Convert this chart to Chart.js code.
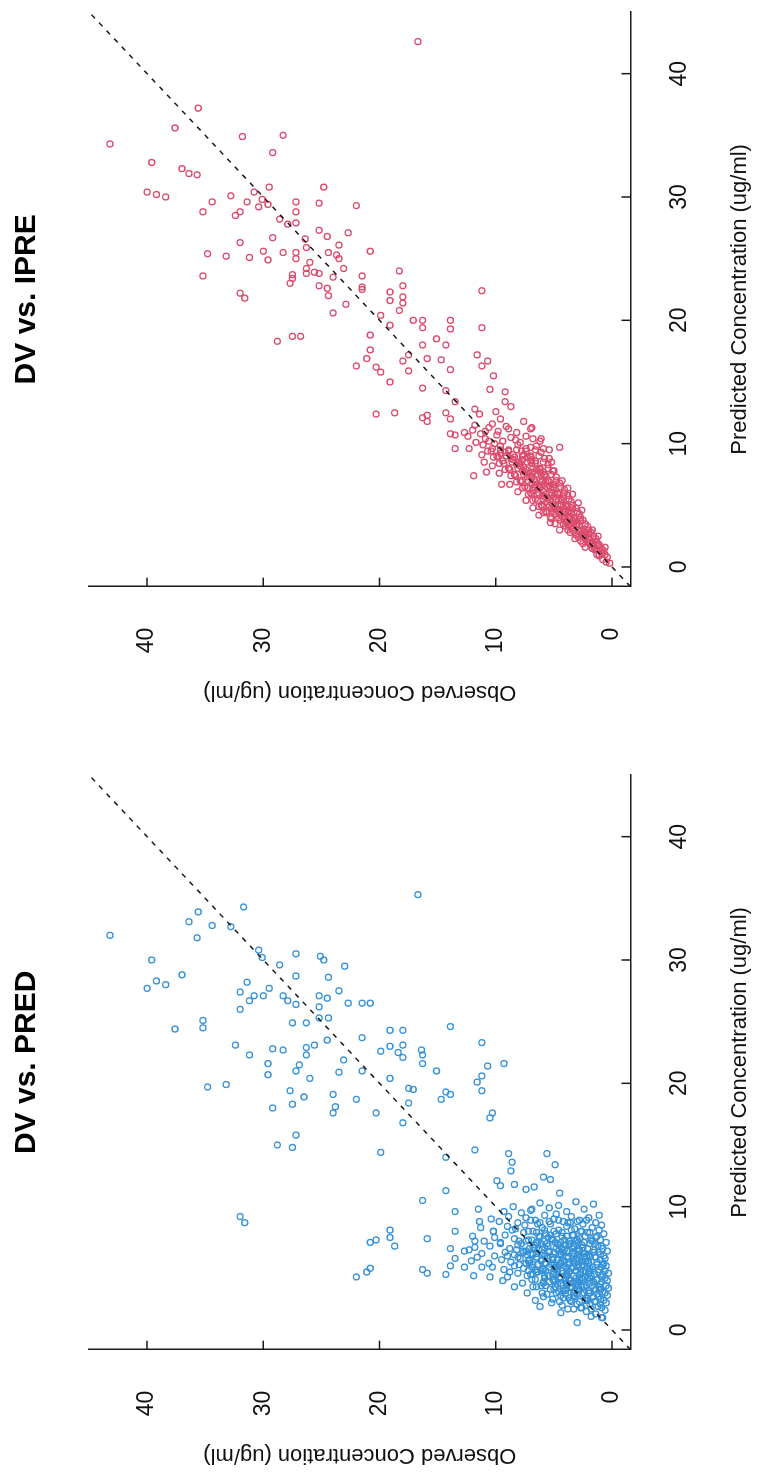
<!DOCTYPE html>
<html>
<head>
<meta charset="utf-8">
<title>DV vs. PRED / DV vs. IPRE</title>
<script src="https://cdn.jsdelivr.net/npm/chart.js@4.4.1/dist/chart.umd.min.js"></script>
<style>
  html, body { margin: 0; padding: 0; background: #fff; overflow: hidden; width: 759px; height: 1473px; }
  /* the figure is laid out landscape, then turned a quarter turn counter-clockwise */
  #page { position: absolute; left: 0; top: 0; width: 1473px; height: 759px;
          transform-origin: 0 0; transform: translate(0, 1473px) rotate(-90deg); }
  #page canvas { position: absolute; top: 0; }
</style>
</head>
<body>
<div id="page">
  <canvas id="cPred" width="736" height="759" style="left:0"></canvas>
  <canvas id="cIpre" width="710" height="759" style="left:763px"></canvas>
</div>
<script>
// ── DATA ───────────────────────────────────────────────────────
// each point: [predicted, observed]  (ug/ml)
const tickVals  = [0, 10, 20, 30, 40];
const axisRange = [-1.6, 45];
const identity  = [-1.6, 45];

const predPoints = [
  // sparse points
  [35.3,16.7],[32.0,43.2],[34.3,31.7],[33.9,35.6],[33.1,36.4],[32.8,34.4],[32.7,32.8],[31.8,35.7],
  [30.0,39.6],[30.8,30.4],[30.2,30.1],[30.5,27.2],[30.3,25.1],[30.0,24.8],[29.5,23.0],[29.6,28.6],
  [28.8,37.0],[28.3,39.2],[28.0,38.4],[27.7,40.0],[28.7,27.2],[28.6,24.4],[28.2,31.4],[27.7,29.5],
  [27.4,32.0],[27.1,30.8],[27.1,30.0],[26.7,31.2],[27.1,28.3],[26.7,27.9],[26.4,27.2],[27.1,25.2],
  [26.9,24.5],[27.5,23.5],[26.5,22.7],[26.5,21.5],[26.5,20.8],[26.0,32.0],[26.2,25.2],[25.3,25.2],
  [25.3,24.4],[24.9,27.5],[24.9,26.3],[25.1,35.2],[24.5,35.2],[24.4,37.6],[23.5,24.5],[23.7,21.5],
  [24.3,19.1],[24.3,18.0],[24.6,13.9],[23.3,11.2],[23.1,32.4],[22.3,31.2],[22.8,29.2],[22.7,28.3],
  [22.9,26.3],[22.3,26.3],[23.1,25.6],[22.6,19.9],[23.0,19.1],[22.5,18.4],[23.1,18.0],[22.1,18.0],
  [22.7,16.4],[22.3,16.3],[21.6,16.3],[21.9,23.1],[21.6,29.6],[20.7,29.6],[21.5,26.9],[21.0,27.2],
  [20.4,26.0],[20.9,23.5],[21.0,21.5],[20.4,19.1],[21.0,15.1],[21.4,10.7],[21.6,9.3],[20.1,11.6],
  [20.6,11.2],[19.4,11.2],[19.7,34.8],[19.9,33.2],[19.4,27.7],[18.9,26.5],[19.1,24.0],[18.3,27.5],
  [18.0,29.2],[18.1,23.8],[17.6,24.0],[18.7,22.0],[17.6,20.3],[19.6,17.5],[19.5,17.1],[18.4,17.5],
  [16.8,18.0],[18.7,14.7],[19.3,14.3],[19.1,13.9],[17.6,10.3],[17.2,10.5],[15.8,27.2],[15.0,28.8],
  [14.8,27.5],[14.4,19.9],[14.0,14.3],[14.6,11.8],[14.3,8.9],[13.6,8.6],[14.3,5.6],[13.4,4.9],
  [12.9,8.7],[11.3,14.3],[12.1,9.9],[11.7,9.6],[11.8,8.4],[11.4,7.4],[11.6,6.7],[12.4,5.9],
  [12.2,5.3],[11.1,4.5],[10.5,16.3],[9.2,32.0],[8.7,31.6],[9.6,13.5],[8.0,13.5],[8.1,19.1],
  [7.5,19.1],[6.8,18.7],[7.3,20.3],[7.1,20.8],[7.4,15.9],[6.6,13.9],[5.8,13.5],[6.4,12.7],
  [5.2,13.9],[5.1,12.7],[4.5,14.3],[4.9,16.3],[4.6,15.9],[5.0,20.8],[4.7,21.1],[4.3,22.0],
  [4.4,11.9],[7.2,11.8],[8.8,11.4],[9.8,11.5],[8.0,10.2],[0.6,3.0],[1.0,0.9],
  // main cluster
  [10.2,1.6],[9.8,2.4],[10.4,3.1],[9.6,3.9],[10.1,4.6],[9.9,5.4],[10.3,6.2],[9.7,7.0],[9.5,7.8],
  [10.0,8.5],[9.6,9.3],[9.3,1.1],[9.1,2.0],[8.9,2.8],[9.2,3.5],[8.8,4.2],[9.0,5.0],[9.3,5.8],
  [8.9,6.6],[9.1,7.4],[8.7,8.1],[9.2,8.9],[8.8,9.7],[9.0,10.4],
  [8.5,0.9],[8.3,1.7],[8.6,2.5],[8.2,3.2],[8.4,3.9],[8.1,4.6],[8.6,5.3],[8.3,6.0],[8.0,6.8],
  [8.5,7.5],[8.2,8.3],[8.4,9.0],[8.0,10.2],[8.3,11.3],
  [7.8,0.7],[7.5,1.4],[7.9,2.1],[7.4,2.8],[7.7,3.4],[7.3,4.1],[7.8,4.8],[7.5,5.5],[7.6,6.2],
  [7.3,6.9],[7.9,7.6],[7.4,8.4],[7.7,9.2],[7.5,10.1],[7.2,11.0],
  [7.1,0.5],[6.8,1.2],[7.0,1.9],[6.7,2.5],[7.2,3.1],[6.9,3.7],[6.6,4.3],[7.1,4.9],[6.8,5.5],
  [7.0,6.1],[6.7,6.8],[7.2,7.4],[6.9,8.1],[6.6,8.8],[7.0,9.6],[6.8,10.5],[6.7,11.8],
  [6.4,0.4],[6.1,1.0],[6.3,1.6],[6.0,2.2],[6.5,2.8],[6.2,3.3],[6.4,3.9],[6.1,4.5],[6.3,5.0],
  [6.0,5.6],[6.5,6.3],[6.2,7.0],[6.4,7.7],[6.1,8.4],[6.3,9.2],[6.0,10.1],[6.2,11.2],
  [5.8,0.6],[5.5,1.3],[5.9,1.9],[5.6,2.6],[5.4,3.2],[5.8,3.8],[5.5,4.4],[5.7,5.1],[5.4,5.8],
  [5.9,6.5],[5.6,7.2],[5.8,7.9],[5.5,8.7],[5.7,9.5],[5.4,10.6],[5.6,12.1],
  [5.2,0.5],[4.9,1.1],[5.1,1.7],[4.8,2.3],[5.3,2.9],[5.0,3.5],[5.2,4.1],[4.9,4.7],[5.1,5.4],
  [4.8,6.1],[5.3,6.8],[5.0,7.6],[5.2,8.4],[4.9,9.3],[5.1,10.3],
  [4.6,0.3],[4.3,0.9],[4.5,1.5],[4.2,2.1],[4.7,2.7],[4.4,3.3],[4.6,3.9],[4.3,4.5],[4.5,5.1],
  [4.2,5.8],[4.7,6.5],[4.4,7.3],[4.6,8.1],[4.3,9.0],
  [4.0,0.4],[3.7,1.0],[3.9,1.6],[3.6,2.2],[4.1,2.8],[3.8,3.4],[4.0,4.0],[3.7,4.7],[3.9,5.4],
  [3.6,6.1],[4.1,6.9],[3.8,7.7],
  [3.4,0.3],[3.1,0.8],[3.3,1.4],[3.0,2.0],[3.5,2.6],[3.2,3.2],[3.4,3.9],[3.1,4.6],[3.3,5.3],
  [3.0,6.0],[3.5,6.8],
  [2.8,0.4],[2.5,1.0],[2.7,1.6],[2.4,2.3],[2.9,3.0],[2.6,3.7],[2.8,4.4],[2.5,5.1],[2.7,5.9],[2.4,6.6],
  [2.2,0.5],[1.9,1.2],[2.1,1.9],[1.8,2.7],[2.3,3.5],[2.0,4.3],[2.2,5.2],[1.9,6.2],
  [1.6,0.6],[1.3,1.4],[1.5,2.2],[1.7,3.3],[1.4,4.4],[1.0,0.8],[1.1,1.8],
  [7.3,1.8],[7.1,2.9],[6.9,4.0],[7.4,5.2],[7.0,6.4],[6.6,3.0],[6.4,4.6],[6.2,5.9],[6.0,1.9],
  [5.8,3.0],[5.6,4.1],[5.3,5.2],[5.9,2.4],[5.5,3.7],[5.2,4.6],[5.0,2.1],[4.8,3.1],[4.6,4.2],
  [4.4,5.5],[4.2,2.6],[4.0,3.6],[3.8,4.4],[3.6,2.9],[3.4,3.5],[3.2,4.2],[3.0,2.4],[2.8,3.3],
  [2.6,2.1],[5.7,6.0],[6.1,6.8],[4.9,6.6],[3.9,5.9],[4.5,7.0],[5.4,7.4],[6.6,7.1],[7.6,3.9],
  [8.0,2.6],[7.8,5.7],[6.8,0.9],[5.3,0.8],[4.1,1.3],[3.3,1.1],[2.3,1.5],[8.7,3.6],[8.6,6.4],
  [9.4,4.8],[9.8,6.9],[5.9,11.6],[5.1,11.2],[4.3,10.5],[6.5,12.3],[7.6,12.0],[4.0,9.4],[3.5,8.4],[3.0,7.3],
  // filling the dense core
  [8.7,1.4],[8.9,2.2],[8.8,3.0],[8.7,3.8],[8.9,4.6],[8.8,5.4],[8.7,6.2],[8.9,7.0],
  [8.1,1.1],[7.9,1.9],[8.0,2.7],[8.1,3.5],[7.9,4.3],[8.0,5.0],[8.1,5.8],[7.9,6.5],[8.0,7.2],[8.1,8.6],
  [7.3,1.0],[7.2,1.7],[7.1,2.4],[7.3,3.0],[7.2,3.7],[7.1,4.4],[7.3,5.1],[7.2,5.8],[7.1,6.5],[7.3,7.2],[7.2,8.0],[7.1,9.6],
  [6.6,0.8],[6.5,1.5],[6.6,2.1],[6.4,2.8],[6.6,3.4],[6.5,4.1],[6.6,4.8],[6.4,5.4],[6.5,6.0],[6.6,6.7],[6.4,7.4],[6.5,8.2],
  [6.0,0.7],[5.9,1.4],[6.1,2.0],[5.9,2.7],[6.0,3.3],[5.9,3.9],[6.1,4.5],[5.9,5.1],[6.0,5.8],[5.9,6.5],[6.1,7.3],[5.9,8.1],[6.0,9.0],
  [5.4,0.7],[5.3,1.3],[5.4,2.0],[5.3,2.6],[5.4,3.2],[5.3,3.8],[5.4,4.4],[5.3,5.0],[5.4,5.7],[5.3,6.4],[5.4,7.1],[5.3,8.0],
  [4.8,0.6],[4.7,1.2],[4.8,1.9],[4.7,2.5],[4.8,3.1],[4.7,3.7],[4.8,4.3],[4.7,5.0],[4.8,5.7],[4.7,6.4],[4.8,7.2],[4.7,8.8],
  [4.2,0.6],[4.1,1.3],[4.2,1.9],[4.1,2.5],[4.2,3.1],[4.1,3.7],[4.2,4.4],[4.1,5.1],[4.2,5.8],[4.1,6.6],
  [3.6,0.5],[3.5,1.1],[3.6,1.7],[3.5,2.4],[3.6,3.0],[3.5,3.6],[3.6,4.2],[3.5,4.9],[3.6,5.7],[3.5,6.5],
  [3.0,0.6],[2.9,1.3],[3.0,1.9],[2.9,2.6],[3.0,3.3],[2.9,4.0],[3.0,4.8],[2.9,5.6],
  [2.4,0.7],[2.3,1.4],[2.4,2.1],[2.3,2.8],[2.4,3.6],[2.3,4.5],
  [1.8,0.9],[1.7,1.8],[1.8,2.6],[1.7,3.8],
  [5.1,3.3],[5.7,4.7],[6.3,4.2],[4.5,4.8],[3.9,3.1],[4.9,5.9],[5.5,2.3],[6.8,3.3],[4.3,2.3],[3.3,2.8],
  [5.0,4.9],[5.8,5.5],[4.4,3.9],[3.7,3.9],[6.2,2.5],[7.0,4.7],[5.6,3.3],[4.0,5.0],[4.6,2.0],[6.7,5.8],
  [7.6,1.3],[7.6,2.3],[7.7,3.3],[7.6,4.3],[7.7,5.3],[7.6,6.3],
  [7.0,1.5],[6.9,2.6],[7.0,3.6],[6.9,4.6],[7.0,5.6],[6.9,6.7],[7.0,7.8],
  [6.3,1.2],[6.2,2.3],[6.3,3.4],[6.2,4.4],[6.3,5.4],[6.2,6.5],[6.3,7.6],
  [5.7,1.0],[5.6,2.1],[5.7,3.1],[5.6,4.1],[5.7,5.1],[5.6,6.1],[5.7,7.1],
  [5.1,0.9],[5.0,1.9],[5.1,2.9],[5.0,3.9],[5.1,4.9],[5.0,5.9],[5.1,6.9],
  [4.5,0.8],[4.4,1.8],[4.5,2.8],[4.4,3.8],[4.5,4.8],[4.4,5.8],[4.5,6.8],
  [3.9,0.9],[3.8,1.9],[3.9,2.9],[3.8,3.9],[3.9,4.9],[3.8,5.9],
  [3.3,1.0],[3.2,2.0],[3.3,3.0],[3.2,4.0],[3.3,5.0],
  [2.7,1.2],[2.6,2.2],[2.7,3.2],[2.6,4.2],[2.1,1.0],[2.0,2.2],[2.1,3.0]
];

const iprePoints = [
  // sparse points
  [42.6,16.7],[34.3,43.2],[37.2,35.6],[35.6,37.6],[34.9,31.8],[35.0,28.3],[33.6,29.2],[32.8,39.6],
  [32.3,37.0],[31.9,36.4],[31.8,35.7],[30.4,40.0],[30.2,39.2],[30.0,38.4],[30.1,32.8],[30.4,30.8],
  [30.8,29.5],[30.8,24.8],[29.6,34.4],[28.8,35.2],[29.6,31.4],[29.2,30.4],[29.8,30.1],[29.4,29.6],
  [29.6,27.2],[28.8,27.2],[29.5,25.2],[29.3,22.0],[28.5,32.4],[28.8,32.0],[28.2,28.6],[27.8,27.9],
  [27.9,27.2],[27.3,25.2],[26.8,24.5],[27.1,22.7],[26.7,29.2],[26.3,32.0],[26.6,26.4],[25.9,26.3],
  [26.1,23.5],[25.4,34.8],[25.2,33.2],[25.1,31.2],[25.6,30.0],[24.9,29.6],[25.5,28.3],[25.5,27.2],
  [25.0,27.2],[24.7,26.0],[25.5,24.4],[25.3,23.7],[25.0,23.5],[24.2,23.1],[25.6,20.8],[23.6,35.2],
  [23.7,27.5],[23.4,27.5],[23.0,27.7],[24.2,26.3],[23.8,26.3],[23.9,25.6],[23.8,25.2],[22.8,25.2],
  [22.6,24.5],[22.0,24.4],[23.5,24.0],[20.6,24.0],[21.3,22.9],[23.6,21.5],[22.7,21.5],[22.5,21.5],
  [22.2,32.0],[21.8,31.6],[24.0,18.3],[22.8,18.0],[22.3,19.1],[21.6,19.1],[21.9,18.0],[21.4,18.0],
  [20.8,18.3],[22.4,11.2],[20.4,19.9],[19.6,19.1],[20.0,17.1],[20.0,16.3],[19.4,16.3],[20.0,13.9],
  [19.3,13.9],[19.4,11.2],[18.3,28.8],[18.7,27.5],[18.7,26.8],[18.8,20.8],[17.6,20.8],[16.9,21.1],
  [16.3,22.0],[16.2,20.3],[15.8,19.9],[15.0,19.1],[17.2,17.5],[16.7,18.0],[15.9,17.5],[18.0,16.3],
  [16.9,15.9],[18.5,15.1],[18.0,14.3],[16.8,14.7],[16.0,13.9],[14.5,16.3],[14.3,14.3],[13.4,13.5],
  [17.2,11.6],[16.3,11.2],[16.7,10.7],[15.5,10.2],[14.4,10.5],[14.2,9.2],[13.4,9.2],[13.0,8.7],
  [12.4,20.3],[12.5,18.7],[12.1,16.3],[12.3,15.9],[11.8,15.9],[12.5,14.3],[12.0,13.9],[12.8,11.8],
  [12.4,11.4],[10.8,13.9],[10.7,13.5],[9.6,13.5],[10.9,12.7],[9.6,12.3],[7.4,11.9],[8.5,11.0],
  [7.7,10.8],[6.7,9.5],[9.5,5.4],[9.7,4.5],[8.8,5.4],[7.8,5.0],
  [12.0,9.6],[11.6,10.3],[11.2,8.9],[11.8,7.6],[11.5,11.8],[11.0,10.9],[10.6,12.4],[11.3,6.9],
  [12.6,10.0],[10.4,6.1],
  // main band
  [11.2,7.0],[10.9,8.2],[11.4,9.1],[11.0,9.8],[11.3,10.6],[10.8,11.3],[11.1,12.0],
  [10.4,6.8],[10.1,7.9],[10.5,8.7],[10.2,9.4],[10.0,10.1],[10.4,10.9],[10.1,11.7],
  [9.8,6.5],[9.6,7.4],[9.9,8.1],[9.5,8.9],[9.8,9.6],[9.6,10.3],[9.9,11.1],
  [9.3,6.1],[9.0,7.0],[9.4,7.8],[9.1,8.5],[9.3,9.2],[9.0,9.9],[9.4,10.7],
  [8.8,5.8],[8.6,6.6],[8.9,7.3],[8.5,8.0],[8.8,8.7],[8.6,9.4],[8.9,10.2],
  [8.3,5.5],[8.0,6.2],[8.4,6.9],[8.1,7.6],[8.3,8.2],[8.0,8.9],[8.4,9.7],
  [7.8,5.1],[7.5,5.8],[7.9,6.5],[7.6,7.1],[7.8,7.7],[7.5,8.4],[7.9,9.2],
  [7.3,4.8],[7.0,5.5],[7.4,6.1],[7.1,6.7],[7.3,7.3],[7.0,7.9],[7.4,8.7],
  [6.8,4.5],[6.5,5.1],[6.9,5.7],[6.6,6.3],[6.8,6.9],[6.5,7.5],[6.9,8.2],
  [6.3,4.1],[6.0,4.7],[6.4,5.3],[6.1,5.9],[6.3,6.4],[6.0,7.0],[6.4,7.7],
  [5.8,3.8],[5.5,4.4],[5.9,4.9],[5.6,5.5],[5.8,6.0],[5.5,6.6],[5.9,7.2],
  [5.3,3.5],[5.0,4.0],[5.4,4.6],[5.1,5.1],[5.3,5.6],[5.0,6.1],[5.4,6.8],
  [4.8,3.1],[4.5,3.7],[4.9,4.2],[4.6,4.7],[4.8,5.2],[4.5,5.7],[4.9,6.3],
  [4.3,2.8],[4.0,3.3],[4.4,3.8],[4.1,4.3],[4.3,4.8],[4.0,5.3],[4.4,5.9],
  [3.8,2.5],[3.5,3.0],[3.9,3.5],[3.6,3.9],[3.8,4.4],[3.5,4.9],
  [3.3,2.1],[3.0,2.6],[3.4,3.1],[3.1,3.5],[3.3,4.0],[3.0,4.5],
  [2.8,1.8],[2.5,2.3],[2.9,2.7],[2.6,3.1],[2.8,3.6],
  [2.3,1.4],[2.0,1.9],[2.4,2.3],[2.1,2.7],[2.3,3.2],
  [1.8,1.1],[1.5,1.5],[1.9,1.9],[1.6,2.3],
  [1.3,0.7],[1.0,1.1],[1.4,1.5],[0.8,0.4],[0.6,0.8],[0.9,1.1],[0.3,0.2],[0.4,0.5],
  [9.1,7.6],[8.6,7.0],[8.2,7.9],[7.7,6.2],[7.3,6.9],[6.9,6.0],[6.6,5.4],[6.2,6.8],[5.8,5.2],
  [5.5,5.9],[5.1,4.4],[4.7,5.0],[4.4,4.1],[4.1,3.6],[3.7,3.3],[3.4,3.7],[3.0,2.9],[2.6,2.5],
  [2.2,2.0],[1.9,1.6],[7.0,4.3],[6.4,3.8],[8.5,5.2],[9.6,5.9],[10.2,6.2],[5.9,3.4],[5.2,2.9],
  [4.6,2.6],[7.6,9.7],[6.7,8.8],[6.1,8.1],[5.4,7.4],[4.8,6.8],[4.2,6.3],[3.6,5.3],[8.2,10.3],
  [9.1,11.2],[3.0,1.7],[2.5,1.2],[1.6,0.6],
  // filling the band
  [9.5,6.6],[9.4,7.4],[9.5,8.2],[9.4,8.9],[9.5,9.6],[9.4,10.4],
  [9.0,6.3],[8.9,7.0],[9.0,7.7],[8.9,8.4],[9.0,9.1],[8.9,9.8],
  [8.5,5.9],[8.4,6.6],[8.5,7.3],[8.4,7.9],[8.5,8.6],[8.4,9.3],
  [8.0,5.5],[7.9,6.2],[8.0,6.8],[7.9,7.4],[8.0,8.1],[7.9,8.8],
  [7.5,5.2],[7.4,5.8],[7.5,6.4],[7.4,7.0],[7.5,7.6],[7.4,8.3],
  [7.0,4.8],[6.9,5.4],[7.0,6.0],[6.9,6.6],[7.0,7.2],[6.9,7.8],
  [6.5,4.4],[6.4,5.0],[6.5,5.6],[6.4,6.2],[6.5,6.7],[6.4,7.3],
  [6.0,4.1],[5.9,4.6],[6.0,5.2],[5.9,5.7],[6.0,6.3],[5.9,6.9],
  [5.5,3.7],[5.4,4.3],[5.5,4.8],[5.4,5.3],[5.5,5.9],[5.4,6.4],
  [5.0,3.4],[4.9,3.9],[5.0,4.4],[4.9,4.9],[5.0,5.4],[4.9,6.0],
  [4.5,3.0],[4.4,3.5],[4.5,4.0],[4.4,4.5],[4.5,5.0],[4.4,5.6],
  [4.0,2.7],[3.9,3.2],[4.0,3.7],[3.9,4.1],[4.0,4.6],[3.9,5.2],
  [3.5,2.3],[3.4,2.8],[3.5,3.3],[3.4,3.7],[3.5,4.2],
  [3.0,2.0],[2.9,2.4],[3.0,2.9],[2.9,3.3],[3.0,3.8],
  [2.5,1.6],[2.4,2.0],[2.5,2.5],[2.4,2.9],
  [2.0,1.3],[1.9,1.7],[2.0,2.1],[1.9,2.5],
  [1.5,0.9],[1.4,1.3],[1.5,1.7],[1.0,0.6],[1.1,0.9],[1.0,1.3],
  [10.6,7.4],[10.3,8.3],[10.7,9.9],[10.2,10.6],[9.7,7.0],[9.2,9.6],
  [8.7,6.9],[8.7,7.7],[8.7,8.5],[7.7,5.9],[7.7,6.8],[7.7,7.5],[6.7,5.0],[6.7,5.9],[6.7,6.6],
  [5.7,4.2],[5.7,5.0],[5.7,5.8],[4.7,3.4],[4.7,4.1],[4.7,4.9],[3.7,2.7],[3.7,3.2],[3.7,3.9],
  [2.7,2.0],[2.7,2.6],[1.7,1.2],[1.7,1.6]
];

// ── STYLE ──────────────────────────────────────────────────────
const FONT   = "'Liberation Sans', Arial, Helvetica, sans-serif";
const INK    = '#1a1a1a';
const TICK   = 9;

// R-style ticks, drawn inward from the two axis lines
const inwardTicks = {
  id: 'inwardTicks',
  afterDatasetsDraw(chart) {
    const { ctx, chartArea: a, scales: { x, y } } = chart;
    ctx.save();
    ctx.strokeStyle = INK;
    ctx.lineWidth = 1.5;
    ctx.beginPath();
    tickVals.forEach(v => {
      const px = x.getPixelForValue(v);
      ctx.moveTo(px, a.bottom);
      ctx.lineTo(px, a.bottom - TICK);
      const py = y.getPixelForValue(v);
      ctx.moveTo(a.left, py);
      ctx.lineTo(a.left + TICK, py);
    });
    ctx.stroke();
    ctx.restore();
  }
};

function makePanel(id, title, points, color, padRight) {
  return new Chart(document.getElementById(id), {
    type: 'scatter',
    data: {
      datasets: [
        {
          data: points.map(p => ({ x: p[0], y: p[1] })),
          pointStyle: 'circle',
          pointRadius: 3,
          pointBorderWidth: 1.3,
          borderColor: color,
          pointBorderColor: color,
          backgroundColor: 'rgba(0,0,0,0)',
          pointBackgroundColor: 'rgba(0,0,0,0)',
          order: 2,
        },
        {
          type: 'line',
          data: identity.map(v => ({ x: v, y: v })),
          borderColor: INK,
          borderWidth: 1.5,
          borderDash: [5, 6],
          pointRadius: 0,
          fill: false,
          order: 1,
        },
      ],
    },
    options: {
      responsive: false,
      animation: false,
      devicePixelRatio: 1,
      layout: { padding: { left: 0, right: padRight, top: 0, bottom: 0 } },
      plugins: {
        legend: { display: false },
        tooltip: { enabled: false },
        title: {
          display: true,
          text: title,
          fullSize: false,
          color: '#000',
          font: { family: FONT, size: 30, weight: 'bold' },
          padding: { top: 8.6, bottom: 44.4 },
        },
      },
      scales: {
        x: {
          type: 'linear',
          min: axisRange[0],
          max: axisRange[1],
          grid: { display: false },
          border: { display: true, color: INK, width: 1.5 },
          afterBuildTicks: s => { s.ticks = tickVals.map(v => ({ value: v })); },
          afterFit: s => { s.height = 128.4; },
          ticks: { color: '#111', font: { family: FONT, size: 23 }, padding: 27.7, maxRotation: 0, autoSkip: false },
          title: {
            display: true,
            text: 'Predicted Concentration (ug/ml)',
            color: '#111',
            font: { family: FONT, size: 22 },
            padding: { top: 0, bottom: 5.8 },
          },
        },
        y: {
          type: 'linear',
          min: axisRange[0],
          max: axisRange[1],
          grid: { display: false },
          border: { display: true, color: INK, width: 1.5 },
          afterBuildTicks: s => { s.ticks = tickVals.map(v => ({ value: v })); },
          afterFit: s => { s.width = 123.3; },
          ticks: { color: '#111', font: { family: FONT, size: 23 }, padding: 33, autoSkip: false },
          title: {
            display: true,
            text: 'Observed Concentration (ug/ml)',
            color: '#111',
            font: { family: FONT, size: 22 },
            padding: { top: 4.3, bottom: 0 },
          },
        },
      },
    },
    plugins: [inwardTicks],
  });
}

makePanel('cPred', 'DV vs. PRED', predPoints, '#3592d8', 38);
makePanel('cIpre', 'DV vs. IPRE', iprePoints, '#dc4a6c', 12);
</script>
</body>
</html>
